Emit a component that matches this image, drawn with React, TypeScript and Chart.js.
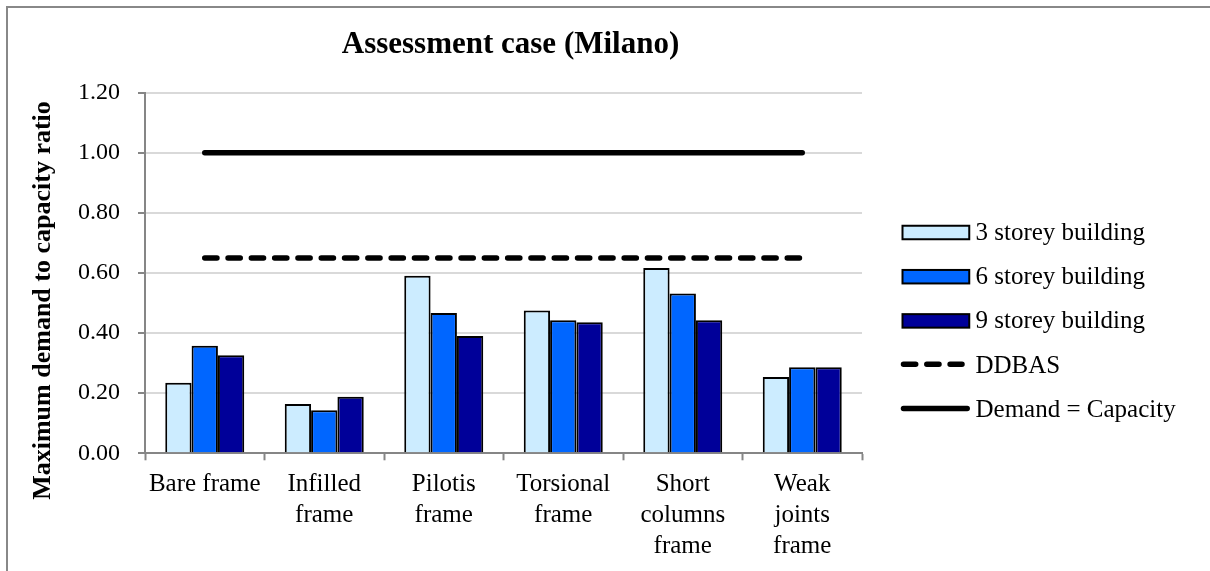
import React, { useEffect, useRef } from "react";
import { Chart, registerables } from "chart.js";

Chart.register(...registerables);

// ---------- data ----------
const categories: string[][] = [
  ["Bare frame"],
  ["Infilled", "frame"],
  ["Pilotis", "frame"],
  ["Torsional", "frame"],
  ["Short", "columns", "frame"],
  ["Weak", "joints", "frame"],
];
const storey3 = [0.235, 0.164, 0.591, 0.475, 0.617, 0.254];
const storey6 = [0.358, 0.143, 0.467, 0.443, 0.532, 0.286];
const storey9 = [0.326, 0.188, 0.39, 0.436, 0.443, 0.286];
const ddbas = [0.65, 0.65, 0.65, 0.65, 0.65, 0.65];
const demandCapacity = [1, 1, 1, 1, 1, 1];
const seriesLabels = [
  "3 storey building",
  "6 storey building",
  "9 storey building",
  "DDBAS",
  "Demand = Capacity",
];
const yMin = 0;
const yMax = 1.2;
const yStep = 0.2;
const chartTitle = "Assessment case (Milano)";
const yAxisTitle = "Maximum demand to capacity ratio";

// ---------- styles ----------
const SERIF = '"Liberation Serif", "Times New Roman", serif';
const AXIS_GRAY = "#868686";

const overlayPlugin = {
  id: "overlay",
  afterDraw(chart: any) {
    const ctx: CanvasRenderingContext2D = chart.ctx;
    ctx.save();
    ctx.fillStyle = "#000";
    // chart title
    ctx.font = `bold 31px ${SERIF}`;
    ctx.textAlign = "center";
    ctx.textBaseline = "middle";
    ctx.fillText(chartTitle, 510.5, 45);
    // y axis title
    ctx.save();
    ctx.translate(43.3, 300.5);
    ctx.rotate(-Math.PI / 2);
    ctx.font = `bold 26px ${SERIF}`;
    ctx.fillText(yAxisTitle, 0, 0);
    ctx.restore();

    // legend
    const datasets = chart.data.datasets;
    datasets.forEach((d: any, i: number) => {
      const base = 240 + i * 44.2;
      if (d.type === "line") {
        ctx.save();
        ctx.strokeStyle = d.borderColor;
        ctx.lineWidth = d.borderWidth;
        ctx.lineCap = "round";
        ctx.setLineDash(d.borderDash || []);
        ctx.beginPath();
        const yy = base - 8.4;
        const x1 = d.borderDash ? 962 : 967.2;
        ctx.moveTo(903.5, yy);
        ctx.lineTo(x1, yy);
        ctx.stroke();
        ctx.restore();
      } else {
        ctx.save();
        ctx.fillStyle = d.backgroundColor;
        ctx.fillRect(902.5, base - 14.25, 66.75, 13.5);
        ctx.strokeStyle = "#000";
        ctx.lineWidth = 2;
        ctx.strokeRect(902.5, base - 14.25, 66.75, 13.5);
        ctx.restore();
      }
      ctx.fillStyle = "#000";
      ctx.font = `25px ${SERIF}`;
      ctx.textAlign = "left";
      ctx.textBaseline = "alphabetic";
      ctx.fillText(d.label, 975.5, base);
    });
    ctx.restore();
  },
};

export default function App() {
  const canvasRef = useRef<HTMLCanvasElement | null>(null);

  useEffect(() => {
    const canvas = canvasRef.current;
    if (!canvas) return;
    const chart = new Chart(canvas, {
      type: "bar",
      data: {
        labels: categories as any,
        datasets: [
          {
            type: "bar",
            label: seriesLabels[0],
            data: storey3,
            backgroundColor: "#CCECFF",
            borderColor: "#000000",
            borderWidth: 2,
            order: 2,
          },
          {
            type: "bar",
            label: seriesLabels[1],
            data: storey6,
            backgroundColor: "#0066FF",
            borderColor: "#000000",
            borderWidth: 2,
            order: 2,
          },
          {
            type: "bar",
            label: seriesLabels[2],
            data: storey9,
            backgroundColor: "#000099",
            borderColor: "#000000",
            borderWidth: 2,
            order: 2,
          },
          {
            type: "line",
            label: seriesLabels[3],
            data: ddbas,
            borderColor: "#000000",
            backgroundColor: "#000000",
            borderWidth: 5.5,
            borderDash: [12.2, 11.1],
            borderCapStyle: "round",
            pointRadius: 0,
            fill: false,
            order: 1,
          },
          {
            type: "line",
            label: seriesLabels[4],
            data: demandCapacity,
            borderColor: "#000000",
            backgroundColor: "#000000",
            borderWidth: 5.5,
            borderCapStyle: "round",
            pointRadius: 0,
            fill: false,
            order: 1,
          },
        ] as any,
      },
      options: {
        responsive: false,
        animation: false,
        devicePixelRatio: 1,
        layout: { padding: { top: 92.7, right: 348, bottom: 0, left: 0 } },
        datasets: {
          bar: { categoryPercentage: 0.661, barPercentage: 1 },
        } as any,
        plugins: {
          legend: { display: false },
          title: { display: false },
          tooltip: { enabled: false },
        },
        scales: {
          x: {
            z: 1,
            offset: true,
            grid: {
              display: true,
              offset: true,
              drawOnChartArea: false,
              drawTicks: true,
              tickLength: 7,
              tickColor: AXIS_GRAY,
              tickWidth: 2,
            },
            border: { display: true, color: AXIS_GRAY, width: 2 },
            ticks: {
              color: "#000",
              font: { family: SERIF, size: 25, lineHeight: 1.24 },
              padding: 9,
              maxRotation: 0,
              minRotation: 0,
              autoSkip: false,
            },
            afterFit(scale: any) {
              scale.height = 117.7;
            },
          },
          y: {
            min: yMin,
            max: yMax,
            grid: {
              color: "#d9d9d9",
              lineWidth: 2,
              tickLength: 7,
              tickColor: AXIS_GRAY,
              tickWidth: 2,
            },
            border: { color: AXIS_GRAY, width: 2 },
            ticks: {
              stepSize: yStep,
              color: "#000",
              font: { family: SERIF, size: 24 },
              padding: 18,
              callback: (v: any) => Number(v).toFixed(2),
            },
            afterFit(scale: any) {
              scale.width = 145;
            },
          },
        },
      } as any,
      plugins: [overlayPlugin],
    });
    return () => chart.destroy();
  }, []);

  return (
    <div
      style={{
        position: "fixed",
        left: 0,
        top: 0,
        width: 1210,
        height: 571,
        overflow: "hidden",
        background: "#fff",
      }}
    >
      <div
        style={{
          position: "absolute",
          left: 6,
          top: 6,
          width: 1300,
          height: 700,
          border: "2px solid #888888",
          boxSizing: "border-box",
        }}
      />
      <canvas
        ref={canvasRef}
        width={1210}
        height={571}
        style={{ position: "absolute", left: 0, top: 0, width: 1210, height: 571 }}
      />
    </div>
  );
}
